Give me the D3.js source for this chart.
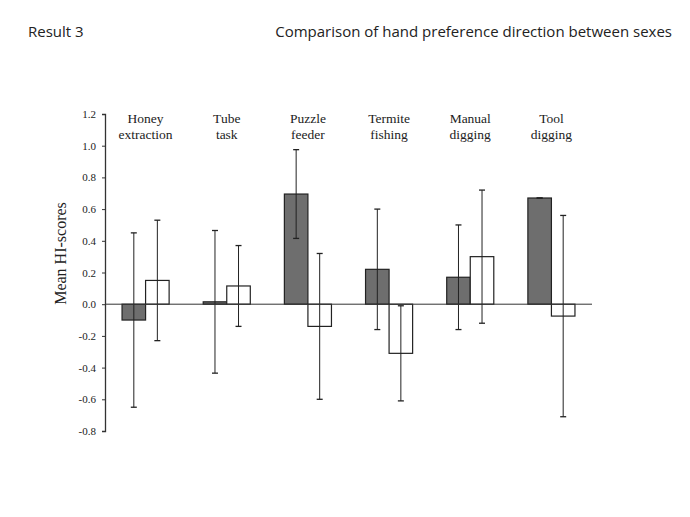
<!DOCTYPE html>
<html>
<head>
<meta charset="utf-8">
<script src="https://cdn.jsdelivr.net/npm/d3@7"></script>
<style>
  body { margin: 0; background: #fff; }
  svg { display: block; }
  .header { font-family: "Open Sans", sans-serif; font-size: 15px; fill: #222; }
  .serif { font-family: "Liberation Serif", "Times New Roman", serif; fill: #222; }
</style>
</head>
<body>
<svg id="chart" width="690" height="517"></svg>
<script>
const tasks = ["Honey extraction", "Tube task", "Puzzle feeder", "Termite fishing", "Manual digging", "Tool digging"];
const taskLines = [["Honey", "extraction"], ["Tube", "task"], ["Puzzle", "feeder"], ["Termite", "fishing"], ["Manual", "digging"], ["Tool", "digging"]];
const sexes = ["male", "female"];
const maleMeans = [-0.10, 0.015, 0.695, 0.22, 0.17, 0.67];
const maleErrors = [0.55, 0.45, 0.28, 0.38, 0.33, 0.0];
const femaleMeans = [0.15, 0.115, -0.14, -0.31, 0.30, -0.075];
const femaleErrors = [0.38, 0.255, 0.46, 0.30, 0.42, 0.635];
const yTicks = [1.2, 1.0, 0.8, 0.6, 0.4, 0.2, 0.0, -0.2, -0.4, -0.6, -0.8];

const svg = d3.select("#chart");

const margin = { left: 105, right: 98, top: 114, bottom: 86 };
const width = 690;
const height = 517;

const x = d3.scaleBand()
  .domain(tasks)
  .range([margin.left, width - margin.right])
  .paddingInner(0.42)
  .paddingOuter(0.21);

const xSex = d3.scaleBand()
  .domain(sexes)
  .range([0, x.bandwidth()]);

const y = d3.scaleLinear()
  .domain([-0.8, 1.2])
  .range([height - margin.bottom, margin.top]);

const data = tasks.map((task, i) => ({
  task,
  values: [
    { sex: "male", mean: maleMeans[i], err: maleErrors[i] },
    { sex: "female", mean: femaleMeans[i], err: femaleErrors[i] }
  ]
}));

// header texts
svg.append("text").attr("class", "header")
  .attr("x", 28).attr("y", 37)
  .text("Result 3");

svg.append("text").attr("class", "header")
  .attr("x", 672).attr("y", 37)
  .attr("text-anchor", "end")
  .text("Comparison of hand preference direction between sexes");

// y axis
const yAxis = svg.append("g")
  .attr("transform", `translate(${margin.left},0)`)
  .call(d3.axisLeft(y)
    .tickValues(yTicks)
    .tickFormat(d => d.toFixed(1))
    .tickSize(3)
    .tickPadding(6));

yAxis.select(".domain").attr("stroke", "#333").attr("stroke-width", 1.3);
yAxis.selectAll(".tick line").attr("stroke", "#333");
yAxis.selectAll(".tick text")
  .style("font-family", "'Liberation Serif', 'Times New Roman', serif")
  .style("font-size", "11px")
  .attr("fill", "#222");

svg.append("text").attr("class", "serif")
  .attr("transform", `translate(66,${(y(1.2) + y(-0.8)) / 2 - 19}) rotate(-90)`)
  .attr("text-anchor", "middle")
  .style("font-size", "16px")
  .text("Mean HI-scores");

// bars
const group = svg.append("g").selectAll("g")
  .data(data)
  .join("g")
  .attr("transform", d => `translate(${x(d.task)},0)`);

group.selectAll("rect")
  .data(d => d.values)
  .join("rect")
  .attr("x", d => xSex(d.sex))
  .attr("y", d => y(Math.max(0, d.mean)))
  .attr("width", xSex.bandwidth())
  .attr("height", d => Math.abs(y(d.mean) - y(0)))
  .attr("fill", d => d.sex === "male" ? "#6e6e6e" : "#fff")
  .attr("stroke", "#222")
  .attr("stroke-width", 1.2);

// zero line
svg.append("line")
  .attr("x1", margin.left).attr("x2", 592)
  .attr("y1", y(0)).attr("y2", y(0))
  .attr("stroke", "#333").attr("stroke-width", 1);

// error bars
const errs = group.selectAll("g.err")
  .data(d => d.values)
  .join("g")
  .attr("class", "err")
  .attr("transform", d => `translate(${xSex(d.sex) + xSex.bandwidth() / 2},0)`);

errs.append("line")
  .attr("y1", d => y(d.mean + d.err))
  .attr("y2", d => y(d.mean - d.err))
  .attr("stroke", "#222").attr("stroke-width", 1);

errs.selectAll("line.cap")
  .data(d => [d.mean + d.err, d.mean - d.err])
  .join("line")
  .attr("class", "cap")
  .attr("x1", -3).attr("x2", 3)
  .attr("y1", v => y(v)).attr("y2", v => y(v))
  .attr("stroke", "#222").attr("stroke-width", 1.3);

// category labels
const labels = svg.append("g").selectAll("text")
  .data(data)
  .join("text")
  .attr("class", "serif")
  .attr("text-anchor", "middle")
  .style("font-size", "13.5px")
  .attr("x", d => x(d.task) + x.bandwidth() / 2)
  .attr("y", 123);

labels.selectAll("tspan")
  .data((d, i) => taskLines[i])
  .join("tspan")
  .attr("x", function () { return d3.select(this.parentNode).attr("x"); })
  .attr("dy", (t, j) => j === 0 ? 0 : 16)
  .text(t => t);
</script>
</body>
</html>
